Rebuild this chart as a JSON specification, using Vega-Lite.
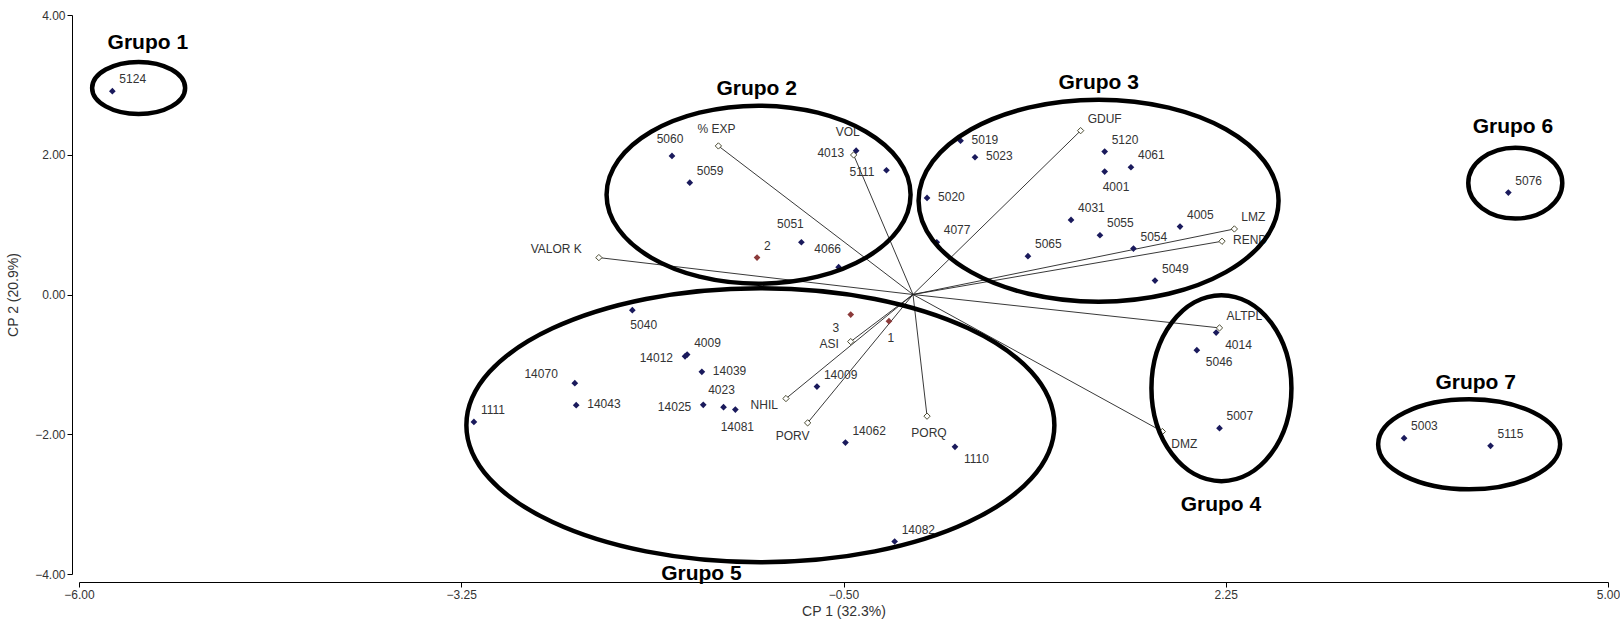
{
  "$schema": "https://vega.github.io/schema/vega-lite/v6.json",
  "width": 1529,
  "height": 559,
  "autosize": "none",
  "padding": {"left": 79, "top": 15, "right": 12, "bottom": 47},
  "background": "white",
  "config": {
    "view": {"stroke": null},
    "font": "Liberation Sans",
    "text": {"font": "Liberation Sans", "fontSize": 12, "color": "#333333", "baseline": "middle"}
  },
  "datasets": {
    "puntos": [
      {"id": "5124", "x": -5.76, "y": 2.91, "tipo": "obs", "pos": "ur"},
      {"id": "5060", "x": -1.734, "y": 1.983, "tipo": "obs", "pos": "u"},
      {"id": "5059", "x": -1.606, "y": 1.601, "tipo": "obs", "pos": "ur"},
      {"id": "4013", "x": -0.409, "y": 2.059, "tipo": "obs", "pos": "l"},
      {"id": "5111", "x": -0.191, "y": 1.778, "tipo": "obs", "pos": "l"},
      {"id": "5051", "x": -0.803, "y": 0.748, "tipo": "obs", "pos": "ul"},
      {"id": "4066", "x": -0.535, "y": 0.391, "tipo": "obs", "pos": "ul"},
      {"id": "5019", "x": 0.342, "y": 2.202, "tipo": "obs", "pos": "r"},
      {"id": "5023", "x": 0.446, "y": 1.964, "tipo": "obs", "pos": "r"},
      {"id": "5020", "x": 0.101, "y": 1.382, "tipo": "obs", "pos": "r"},
      {"id": "4077", "x": 0.171, "y": 0.748, "tipo": "obs", "pos": "ur"},
      {"id": "5065", "x": 0.827, "y": 0.548, "tipo": "obs", "pos": "ur"},
      {"id": "4031", "x": 1.137, "y": 1.067, "tipo": "obs", "pos": "ur"},
      {"id": "5120", "x": 1.379, "y": 2.045, "tipo": "obs", "pos": "ur"},
      {"id": "4061", "x": 1.568, "y": 1.821, "tipo": "obs", "pos": "ur"},
      {"id": "4001", "x": 1.379, "y": 1.759, "tipo": "obs", "pos": "b"},
      {"id": "5055", "x": 1.345, "y": 0.848, "tipo": "obs", "pos": "ur"},
      {"id": "4005", "x": 1.921, "y": 0.972, "tipo": "obs", "pos": "ur"},
      {"id": "5054", "x": 1.586, "y": 0.657, "tipo": "obs", "pos": "ur"},
      {"id": "5049", "x": 1.741, "y": 0.199, "tipo": "obs", "pos": "ur"},
      {"id": "5076", "x": 4.283, "y": 1.458, "tipo": "obs", "pos": "ur"},
      {"id": "5040", "x": -2.019, "y": -0.225, "tipo": "obs", "pos": "b"},
      {"id": "4009", "x": -1.625, "y": -0.86, "tipo": "obs", "pos": "ur"},
      {"id": "14012", "x": -1.64, "y": -0.885, "tipo": "obs", "pos": "l"},
      {"id": "14039", "x": -1.519, "y": -1.107, "tipo": "obs", "pos": "r"},
      {"id": "14070", "x": -2.433, "y": -1.269, "tipo": "obs", "pos": "lu"},
      {"id": "14043", "x": -2.423, "y": -1.584, "tipo": "obs", "pos": "r"},
      {"id": "14025", "x": -1.509, "y": -1.579, "tipo": "obs", "pos": "l"},
      {"id": "4023", "x": -1.363, "y": -1.612, "tipo": "obs", "pos": "u"},
      {"id": "14081", "x": -1.278, "y": -1.647, "tipo": "obs", "pos": "d"},
      {"id": "14009", "x": -0.691, "y": -1.318, "tipo": "obs", "pos": "ur"},
      {"id": "14062", "x": -0.486, "y": -2.119, "tipo": "obs", "pos": "ur"},
      {"id": "1110", "x": 0.302, "y": -2.18, "tipo": "obs", "pos": "lr"},
      {"id": "14082", "x": -0.132, "y": -3.535, "tipo": "obs", "pos": "ur"},
      {"id": "1111", "x": -3.159, "y": -1.823, "tipo": "obs", "pos": "ur"},
      {"id": "4014", "x": 2.181, "y": -0.545, "tipo": "obs", "pos": "lr"},
      {"id": "5046", "x": 2.042, "y": -0.797, "tipo": "obs", "pos": "lr"},
      {"id": "5007", "x": 2.205, "y": -1.913, "tipo": "obs", "pos": "ur"},
      {"id": "5003", "x": 3.533, "y": -2.056, "tipo": "obs", "pos": "ur"},
      {"id": "5115", "x": 4.155, "y": -2.166, "tipo": "obs", "pos": "ur"},
      {"id": "1", "x": -0.173, "y": -0.382, "tipo": "amb", "pos": "d"},
      {"id": "2", "x": -1.122, "y": 0.528, "tipo": "amb", "pos": "ur"},
      {"id": "3", "x": -0.448, "y": -0.287, "tipo": "amb", "pos": "dl"},
      {"id": "% EXP", "x": -1.4, "y": 2.126, "tipo": "var", "pos": "u"},
      {"id": "VOL", "x": -0.427, "y": 1.997, "tipo": "var", "pos": "uu"},
      {"id": "GDUF", "x": 1.206, "y": 2.345, "tipo": "var", "pos": "ur"},
      {"id": "LMZ", "x": 2.312, "y": 0.938, "tipo": "var", "pos": "ur"},
      {"id": "REND", "x": 2.223, "y": 0.762, "tipo": "var", "pos": "r"},
      {"id": "VALOR K", "x": -2.26, "y": 0.528, "tipo": "var", "pos": "lu"},
      {"id": "ALTPL", "x": 2.205, "y": -0.478, "tipo": "var", "pos": "ur"},
      {"id": "DMZ", "x": 1.794, "y": -1.961, "tipo": "var", "pos": "lr"},
      {"id": "ASI", "x": -0.448, "y": -0.674, "tipo": "var", "pos": "l"},
      {"id": "NHIL", "x": -0.914, "y": -1.489, "tipo": "var", "pos": "ld"},
      {"id": "PORV", "x": -0.758, "y": -1.837, "tipo": "var", "pos": "dl"},
      {"id": "PORQ", "x": 0.101, "y": -1.741, "tipo": "var", "pos": "d"}
    ],
    "grupos": [
      {"grupo": "Grupo 1", "ex": -5.571, "ey": 2.956, "tx": -5.505, "ty": 3.595},
      {"grupo": "Grupo 2", "ex": -1.111, "ey": 1.429, "tx": -1.125, "ty": 2.937},
      {"grupo": "Grupo 3", "ex": 1.335, "ey": 1.342, "tx": 1.336, "ty": 3.027},
      {"grupo": "Grupo 4", "ex": 2.219, "ey": -1.341, "tx": 2.215, "ty": -3.01},
      {"grupo": "Grupo 5", "ex": -1.098, "ey": -1.87, "tx": -1.522, "ty": -3.997},
      {"grupo": "Grupo 6", "ex": 4.333, "ey": 1.594, "tx": 4.316, "ty": 2.402},
      {"grupo": "Grupo 7", "ex": 4.001, "ey": -2.144, "tx": 4.048, "ty": -1.26}
    ]
  },
  "encoding": {
    "x": {
      "field": "x", "type": "quantitative",
      "scale": {"domain": [-6, 5], "nice": false, "zero": false},
      "axis": {
        "title": "CP 1 (32.3%)", "values": [-6, -3.25, -0.5, 2.25, 5], "format": ".2f",
        "grid": false, "offset": 8, "tickSize": 5, "domainColor": "#000", "tickColor": "#000",
        "labelFontSize": 12, "labelColor": "#333", "labelPadding": 2, "labelFont": "Liberation Sans", "labelFlush": false, "labelOverlap": false,
        "titleFontSize": 14, "titleFontWeight": "normal", "titleColor": "#333", "titlePadding": 4, "titleFont": "Liberation Sans"
      }
    },
    "y": {
      "field": "y", "type": "quantitative",
      "scale": {"domain": [-4, 4], "nice": false, "zero": false},
      "axis": {
        "title": "CP 2 (20.9%)", "values": [-4, -2, 0, 2, 4], "format": ".2f",
        "grid": false, "offset": 7, "tickSize": 5, "domainColor": "#000", "tickColor": "#000",
        "labelFontSize": 12, "labelColor": "#333", "labelPadding": 2, "labelFont": "Liberation Sans", "labelFlush": false, "labelOverlap": false,
        "titleFontSize": 14, "titleFontWeight": "normal", "titleColor": "#333", "titlePadding": 14, "titleFont": "Liberation Sans"
      }
    }
  },
  "layer": [
    {
      "data": {"name": "puntos"},
      "transform": [{"filter": "datum.tipo === 'var'"}],
      "mark": {"type": "rule", "color": "#222222", "strokeWidth": 0.9},
      "encoding": {"x2": {"datum": 0}, "y2": {"datum": 0}}
    },
    {
      "data": {"name": "puntos"},
      "transform": [{"filter": "datum.tipo === 'var'"}],
      "mark": {"type": "point", "shape": "diamond", "filled": true, "fill": "white", "stroke": "#4d4d33", "strokeWidth": 1, "size": 40, "opacity": 1}
    },
    {
      "data": {"name": "puntos"},
      "transform": [{"filter": "datum.tipo !== 'var'"}],
      "mark": {"type": "point", "shape": "diamond", "filled": true, "size": 45, "opacity": 1},
      "encoding": {
        "color": {"field": "tipo", "type": "nominal", "scale": {"domain": ["obs", "amb"], "range": ["#1a1a5c", "#8b3a3a"]}, "legend": null}
      }
    },
    {"data": {"name": "puntos"}, "transform": [{"filter": "datum.pos === 'ur'"}], "mark": {"type": "text", "align": "left", "dx": 7, "dy": -12}, "encoding": {"text": {"field": "id"}}},
    {"data": {"name": "puntos"}, "transform": [{"filter": "datum.pos === 'r'"}], "mark": {"type": "text", "align": "left", "dx": 11, "dy": -1}, "encoding": {"text": {"field": "id"}}},
    {"data": {"name": "puntos"}, "transform": [{"filter": "datum.pos === 'lr'"}], "mark": {"type": "text", "align": "left", "dx": 9, "dy": 12}, "encoding": {"text": {"field": "id"}}},
    {"data": {"name": "puntos"}, "transform": [{"filter": "datum.pos === 'b'"}], "mark": {"type": "text", "align": "left", "dx": -2, "dy": 15}, "encoding": {"text": {"field": "id"}}},
    {"data": {"name": "puntos"}, "transform": [{"filter": "datum.pos === 'd'"}], "mark": {"type": "text", "align": "center", "dx": 2, "dy": 17}, "encoding": {"text": {"field": "id"}}},
    {"data": {"name": "puntos"}, "transform": [{"filter": "datum.pos === 'dl'"}], "mark": {"type": "text", "align": "center", "dx": -15, "dy": 13}, "encoding": {"text": {"field": "id"}}},
    {"data": {"name": "puntos"}, "transform": [{"filter": "datum.pos === 'u'"}], "mark": {"type": "text", "align": "center", "dx": -2, "dy": -17}, "encoding": {"text": {"field": "id"}}},
    {"data": {"name": "puntos"}, "transform": [{"filter": "datum.pos === 'uu'"}], "mark": {"type": "text", "align": "center", "dx": -6, "dy": -23}, "encoding": {"text": {"field": "id"}}},
    {"data": {"name": "puntos"}, "transform": [{"filter": "datum.pos === 'ul'"}], "mark": {"type": "text", "align": "center", "dx": -11, "dy": -18}, "encoding": {"text": {"field": "id"}}},
    {"data": {"name": "puntos"}, "transform": [{"filter": "datum.pos === 'l'"}], "mark": {"type": "text", "align": "right", "dx": -12, "dy": 2}, "encoding": {"text": {"field": "id"}}},
    {"data": {"name": "puntos"}, "transform": [{"filter": "datum.pos === 'ld'"}], "mark": {"type": "text", "align": "right", "dx": -8, "dy": 6}, "encoding": {"text": {"field": "id"}}},
    {"data": {"name": "puntos"}, "transform": [{"filter": "datum.pos === 'lu'"}], "mark": {"type": "text", "align": "right", "dx": -17, "dy": -9}, "encoding": {"text": {"field": "id"}}},
    {
      "data": {"name": "grupos"},
      "mark": {"type": "point", "filled": false, "stroke": "black", "strokeWidth": 4.5, "size": 360000, "opacity": 1},
      "encoding": {
        "x": {"field": "ex", "type": "quantitative"},
        "y": {"field": "ey", "type": "quantitative"},
        "shape": {
          "field": "grupo", "type": "nominal", "legend": null,
          "scale": {
            "domain": ["Grupo 1", "Grupo 2", "Grupo 3", "Grupo 4", "Grupo 5", "Grupo 6", "Grupo 7"],
            "range": [
              "M0.155,0C0.155,0.0479 0.0856,0.0867 0,0.0867C-0.0856,0.0867 -0.155,0.0479 -0.155,0C-0.155,-0.0479 -0.0856,-0.0867 0,-0.0867C0.0856,-0.0867 0.155,-0.0479 0.155,0Z",
              "M0.5067,0C0.5067,0.1639 0.2798,0.2967 0,0.2967C-0.2798,0.2967 -0.5067,0.1639 -0.5067,0C-0.5067,-0.1639 -0.2798,-0.2967 0,-0.2967C0.2798,-0.2967 0.5067,-0.1639 0.5067,0Z",
              "M0.6,0C0.6,0.186 0.3314,0.3367 0,0.3367C-0.3314,0.3367 -0.6,0.186 -0.6,0C-0.6,-0.186 -0.3314,-0.3367 0,-0.3367C0.3314,-0.3367 0.6,-0.186 0.6,0Z",
              "M0.2333,0C0.2333,0.1712 0.1289,0.31 0,0.31C-0.1289,0.31 -0.2333,0.1712 -0.2333,0C-0.2333,-0.1712 -0.1289,-0.31 0,-0.31C0.1289,-0.31 0.2333,-0.1712 0.2333,0Z",
              "M0.98,0C0.98,0.2522 0.5413,0.4567 0,0.4567C-0.5413,0.4567 -0.98,0.2522 -0.98,0C-0.98,-0.2522 -0.5413,-0.4567 0,-0.4567C0.5413,-0.4567 0.98,-0.2522 0.98,0Z",
              "M0.1567,0C0.1567,0.0654 0.0865,0.1183 0,0.1183C-0.0865,0.1183 -0.1567,0.0654 -0.1567,0C-0.1567,-0.0654 -0.0865,-0.1183 0,-0.1183C0.0865,-0.1183 0.1567,-0.0654 0.1567,0Z",
              "M0.3033,0C0.3033,0.0828 0.1675,0.15 0,0.15C-0.1675,0.15 -0.3033,0.0828 -0.3033,0C-0.3033,-0.0828 -0.1675,-0.15 0,-0.15C0.1675,-0.15 0.3033,-0.0828 0.3033,0Z"
            ]
          }
        }
      }
    },
    {
      "data": {"name": "grupos"},
      "mark": {"type": "text", "fontSize": 21, "fontWeight": "bold", "color": "#000000", "align": "center"},
      "encoding": {
        "x": {"field": "tx", "type": "quantitative"},
        "y": {"field": "ty", "type": "quantitative"},
        "text": {"field": "grupo"}
      }
    }
  ]
}
